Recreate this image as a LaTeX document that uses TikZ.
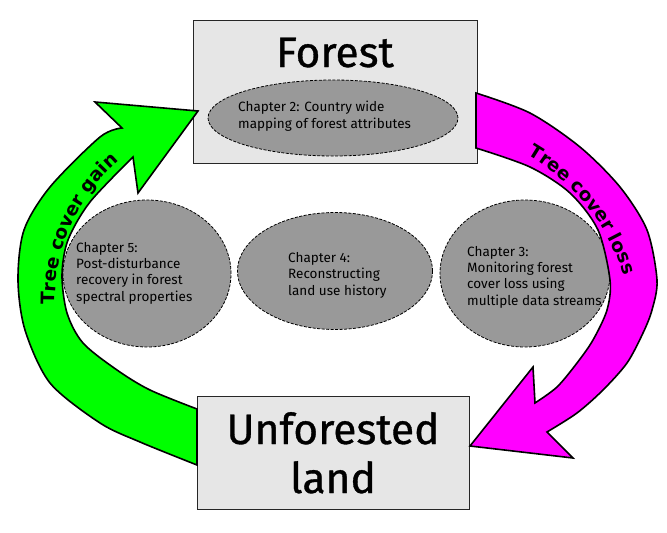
\documentclass[tikz,border=0pt]{standalone}
\usepackage{fontspec}
\setmainfont{Fira Sans}
\newfontfamily\titlefont[FakeBold=0.8]{Fira Sans}
\newfontfamily\labelfont{DejaVu Sans}
\usetikzlibrary{shapes.geometric,decorations.text}
\definecolor{boxfill}{HTML}{E6E6E6}
\definecolor{ellfill}{HTML}{999999}
\definecolor{gainc}{HTML}{00FF00}
\definecolor{lossc}{HTML}{FF00FF}
\begin{document}
\begin{tikzpicture}[x=1pt,y=-1pt,
  box/.style={draw=black!85, line width=1pt, fill=boxfill, inner sep=0pt},
  chap/.style={ellipse, draw=black, fill=ellfill, inner sep=0pt, line width=0.8pt, dash pattern=on 3pt off 1.5pt},
  chaptext/.style={anchor=base west, align=left, font=\fontsize{13.5}{16.3}\selectfont, inner sep=0pt},
  title/.style={font=\titlefont\fontsize{42.5}{49}\selectfont, inner sep=0pt, align=center},
  band/.style={draw=black, line width=1.6pt, line join=miter}]
\useasboundingbox (0,0) rectangle (667,533);

% boxes
\node[box, minimum width=284pt, minimum height=143pt] (forest) at (335,91.5) {};
\node[title, anchor=base] (forestT) at (335,67) {Forest};
\node[box, minimum width=272pt, minimum height=113pt] (unf) at (333,452.5) {};
\node[title, anchor=base] (unfT1) at (333,444) {Unforested};
\node[title, anchor=base] (unfT2) at (333,493) {land};

% chapter ellipses
\node[chap, minimum width=250pt, minimum height=76pt] (ch2) at (333,118) {};
\node[chap, minimum width=168pt, minimum height=147pt] (ch5) at (147,273.5) {};
\node[chap, minimum width=195pt, minimum height=117pt] (ch4) at (335,271) {};
\node[chap, minimum width=170pt, minimum height=147pt] (ch3) at (525,273.5) {};

% texts (base = baseline of the last line)
\node[chaptext] (t2) at (238,128) {Chapter 2: Country wide\\mapping of forest attributes};
\node[chaptext] (t5) at (76,301) {Chapter 5:\\Post-disturbance\\recovery in forest\\spectral properties};
\node[chaptext] (t4) at (288,295) {Chapter 4:\\Reconstructing\\land use history};
\node[chaptext] (t3) at (467,305) {Chapter 3:\\Monitoring forest\\cover loss using\\multiple data streams};

% tree cover gain arrow
\draw[band, fill=gainc]
  plot[smooth] coordinates {(197,465) (140,442) (100,423) (50,383) (25,330) (18,280) (24,230) (50,187) (100,137) (122,128)}
  -- (95,102) -- (198,111) -- (138,193) -- (133,157)
  -- plot[smooth] coordinates {(133,157) (90,202) (68,240) (62,275) (67,313) (83,343) (117,370) (150,390) (197,409)}
  -- cycle;
% tree cover loss arrow
\draw[band, fill=lossc]
  plot[smooth] coordinates {(476,93) (530,113) (580,147) (620,187) (647,230) (657,280) (652,310) (643,333) (627,363) (603,390) (577,413) (547,432)}
  -- (573,458) -- (470,446) -- (533,367) -- (535,403)
  -- plot[smooth] coordinates {(535,403) (557,387) (577,363) (593,340) (607,310) (610,280) (598,230) (570,193) (530,167) (476,148)}
  -- cycle;

% labels along arrows
\path[decorate, decoration={text along path, text align=center,
  text={|\labelfont\bfseries\fontsize{18.5}{18.5}\selectfont|Tree cover gain}}]
  (240,301) ++(-216:185) arc[start angle=-216, end angle=-96, radius=185];
\path[decorate, decoration={text along path, text align=center,
  text={|\labelfont\bfseries\fontsize{18.5}{18.5}\selectfont|Tree cover loss}}]
  (421,338) ++(-98.5:212) arc[start angle=-98.5, end angle=21.5, radius=212];
\end{tikzpicture}
\end{document}
